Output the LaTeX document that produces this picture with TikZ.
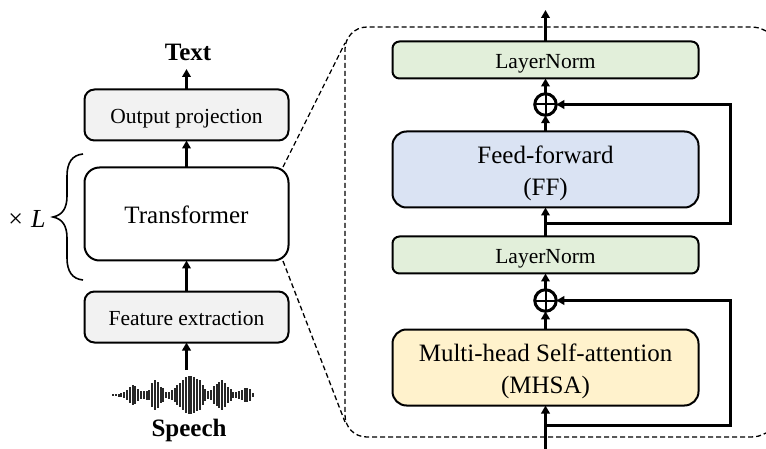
\documentclass[tikz,border=0pt]{standalone}
\usepackage{fontspec}
\setmainfont{Liberation Serif}
\usetikzlibrary{arrows.meta}
\definecolor{gbox}{HTML}{F2F2F2}
\definecolor{lnbox}{HTML}{E2EFDA}
\definecolor{ffbox}{HTML}{DAE3F3}
\definecolor{mhbox}{HTML}{FFF2CC}
\newcommand{\dn}[1]{\raisebox{-3.5pt}[0.7em][0.2em]{#1}}
\tikzset{
  x=1pt,y=-1pt,
  blockbox/.style={draw=black,line width=2pt,outer sep=0pt,inner sep=0pt,align=center,text=black},
  graybox/.style={blockbox,fill=gbox,rounded corners=10pt,minimum width=204pt,minimum height=51pt,font=\fontsize{21.5}{24}\selectfont},
  plainbox/.style={blockbox,fill=white,rounded corners=15pt,minimum width=204pt,minimum height=93pt,font=\fontsize{25}{32}\selectfont},
  normbox/.style={blockbox,fill=lnbox,rounded corners=7pt,minimum width=306pt,minimum height=37pt,font=\fontsize{21.5}{24}\selectfont},
  layerbox/.style={blockbox,rounded corners=14pt,minimum width=306pt,minimum height=76pt,font=\fontsize{25}{32}\selectfont},
  addsum/.style={circle,draw=black,line width=3pt,minimum size=21.5pt,inner sep=0pt,outer sep=0pt,
    path picture={\draw[line width=2pt] (path picture bounding box.north)--(path picture bounding box.south)
      (path picture bounding box.west)--(path picture bounding box.east);}},
  flow/.style={line width=3pt,-{Triangle[length=8pt,width=8.5pt]}},
  zoomline/.style={dashed,dash pattern=on 5pt off 3pt,line width=1.3pt},
  boldlabel/.style={font=\bfseries\fontsize{25}{28}\selectfont,inner sep=0pt},
}
\begin{document}
\begin{tikzpicture}
\useasboundingbox (0,0) rectangle (766,449);
% zoom callout
\coordinate (dtl) at (345,43);
\coordinate (dbl) at (345,422);
\draw[zoomline] (766,31) .. controls (760,28) and (757,27) .. (750,27) -- (367,27)
  .. controls (354,27) and (345,38) .. (345,49) -- (345,415)
  .. controls (345,427) and (354,437) .. (367,437) -- (750,437)
  .. controls (757,437) and (760,436) .. (766,433);
% left column
\node[graybox] (out) at (186.5,115) {\dn{Output projection}};
\node[plainbox] (tr) at (186.5,214) {\dn{Transformer}};
\node[graybox] (fe) at (186.5,317) {\dn{Feature extraction}};
\node[boldlabel] (text) at (188,52) {Text};
\node[boldlabel] (speech) at (189,430) {Speech};
\coordinate (wavetop) at (186.5,370);
\draw[flow] (out.north) -- (186.5,69);
\draw[flow] (tr.north) -- (out.south);
\draw[flow] (fe.north) -- (tr.south);
\draw[flow] (wavetop) -- (fe.south);
\draw[zoomline] (283,167) -- (dtl);
\draw[zoomline] (283,261) -- (dbl);
% brace
\draw[line width=1.6pt] (83,154) .. controls (72,155) and (67,163) .. (67,176) -- (67,196)
  .. controls (67,209) and (62,215) .. (53,217)
  .. controls (62,219) and (67,225) .. (67,238) -- (67,258)
  .. controls (67,271) and (72,279) .. (83,280);
\node[font=\fontsize{26}{30}\selectfont,inner sep=0pt] (times) at (27,219) {×\hspace{8pt}\textit{L}};
% waveform
\foreach \a [count=\k from 0] in {1,1,1.5,2,3,5,8,10,9,6,4,4,4.5,5,12,15,13,8,7,3,3.5,5,7,10,12,15,18,19,19,18,16,15,10,6,4,5,9,11,13,15,12,8,6,3,3,4,5,7,7,6,2}{
  \fill[black!85] ({113+2.8*\k-0.95},{395-\a}) rectangle ({113+2.8*\k+0.95},{395+\a});
}
% right column
\node[normbox] (ln2) at (545.5,60) {\dn{LayerNorm}};
\node[layerbox,fill=ffbox] (ff) at (545.5,169.5) {\dn{Feed-forward}\\\dn{(FF)}};
\node[normbox] (ln1) at (545.5,255) {\dn{LayerNorm}};
\node[layerbox,fill=mhbox] (mh) at (545.5,367.5) {\dn{Multi-head Self-attention}\\\dn{(MHSA)}};
\node[addsum] (s2) at (545.5,104.5) {};
\node[addsum] (s1) at (545.5,300.5) {};
\coordinate (top) at (545.5,10);
\coordinate (bot) at (545.5,449);
\coordinate (tap2) at (545.5,224);
\coordinate (tap1) at (545.5,425);
\coordinate (r2) at (730,224);
\coordinate (r1) at (730,425);
\draw[flow] (ln2.north) -- (top);
\draw[flow] (s2.north) -- (ln2.south);
\draw[flow] (ff.north) -- (s2.south);
\draw[flow] (ln1.north) -- (ff.south);
\draw[flow] (s1.north) -- (ln1.south);
\draw[flow] (mh.north) -- (s1.south);
\draw[flow] (bot) -- (mh.south);
\draw[flow] (tap2) -- (r2) |- (s2.east);
\draw[flow] (tap1) -- (r1) |- (s1.east);
\end{tikzpicture}
\end{document}
